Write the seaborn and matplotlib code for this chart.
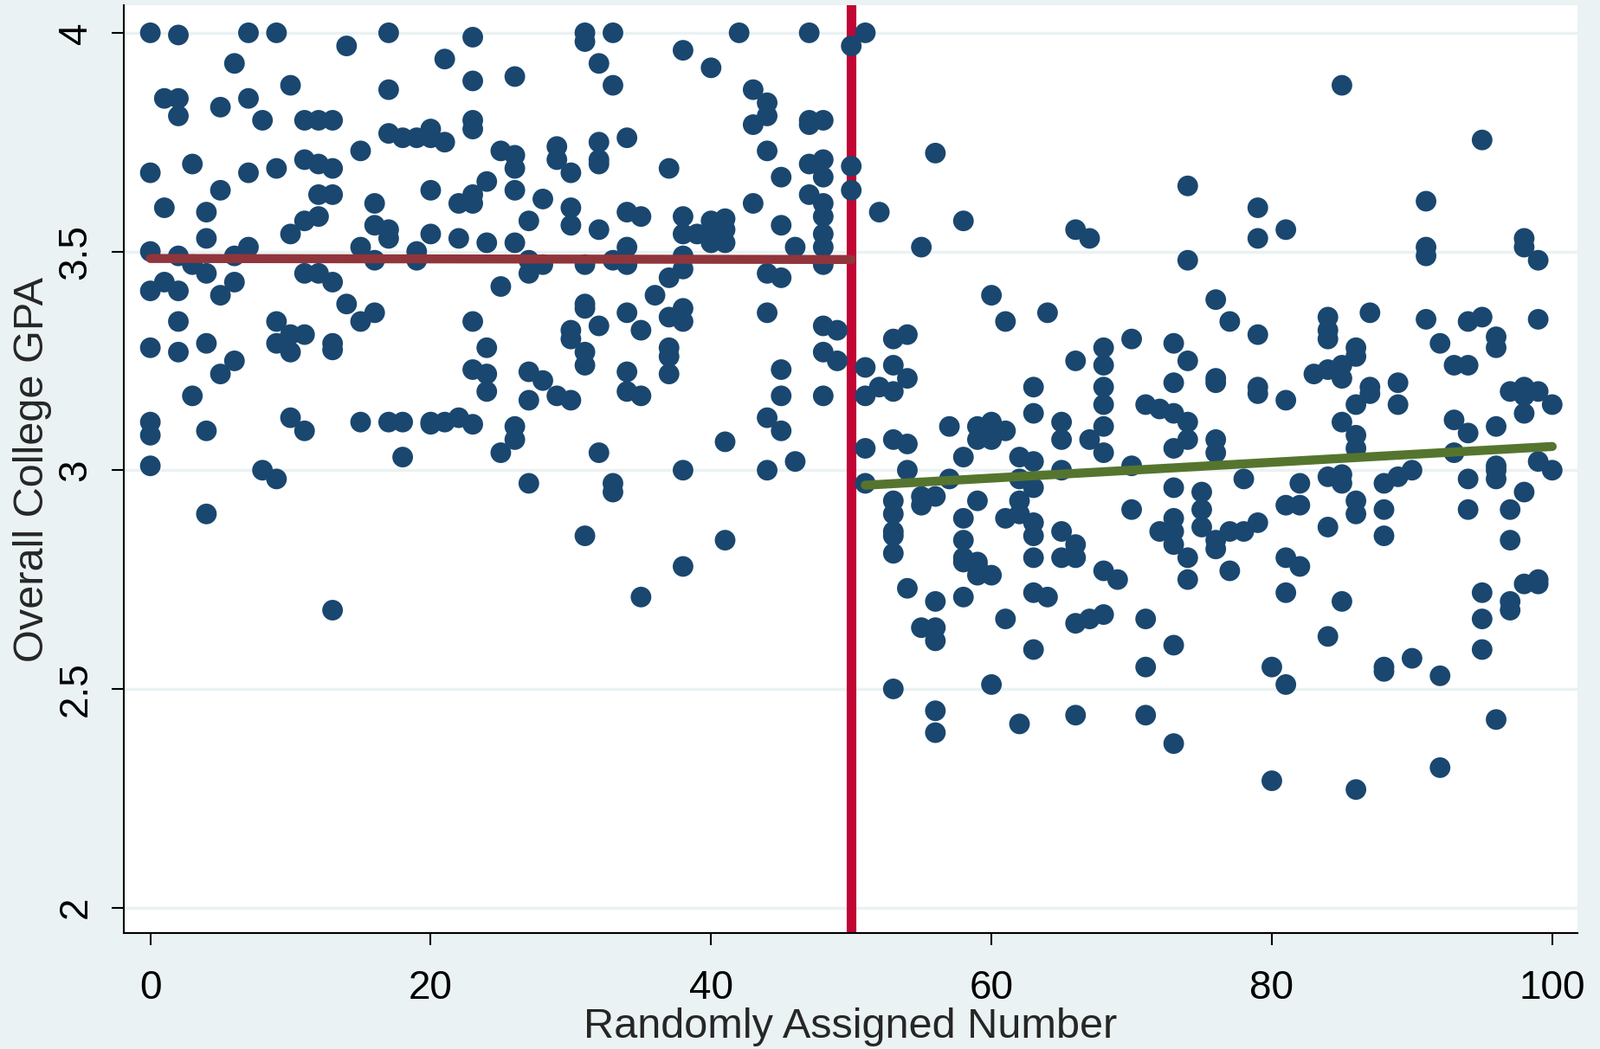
import numpy as np
import pandas as pd
import matplotlib
matplotlib.use("Agg")
import matplotlib.pyplot as plt
import seaborn as sns

# ---- data: randomly assigned number -> GPA values ----
gpa_below_cutoff = {
    0: [4.00, 3.68, 3.50, 3.41, 3.28, 3.11, 3.08, 3.01],
    1: [3.85, 3.60, 3.43],
    2: [3.995, 3.85, 3.81, 3.49, 3.41, 3.34, 3.27],
    3: [3.70, 3.47, 3.17],
    4: [3.59, 3.53, 3.45, 3.29, 3.09, 2.90],
    5: [3.83, 3.64, 3.40, 3.22],
    6: [3.93, 3.49, 3.43, 3.25],
    7: [4.00, 3.85, 3.68, 3.51],
    8: [3.80, 3.00],
    9: [4.00, 3.69, 3.34, 3.29, 2.98],
    10: [3.88, 3.54, 3.31, 3.27, 3.12],
    11: [3.80, 3.71, 3.57, 3.45, 3.31, 3.09],
    12: [3.80, 3.70, 3.63, 3.58, 3.45],
    13: [3.80, 3.69, 3.63, 3.43, 3.29, 3.275, 2.68],
    14: [3.97, 3.38],
    15: [3.73, 3.51, 3.34, 3.11],
    16: [3.61, 3.56, 3.48, 3.36],
    17: [4.00, 3.87, 3.77, 3.55, 3.53, 3.11],
    18: [3.76, 3.11, 3.03],
    19: [3.76, 3.50, 3.48],
    20: [3.78, 3.76, 3.64, 3.54, 3.11, 3.105],
    21: [3.94, 3.75, 3.11],
    22: [3.61, 3.53, 3.12],
    23: [3.99, 3.89, 3.80, 3.78, 3.63, 3.61, 3.34, 3.23, 3.105],
    24: [3.66, 3.52, 3.28, 3.22, 3.18],
    25: [3.73, 3.42, 3.04],
    26: [3.90, 3.72, 3.69, 3.64, 3.52, 3.10, 3.07],
    27: [3.57, 3.48, 3.45, 3.225, 3.16, 2.97],
    28: [3.62, 3.47, 3.205],
    29: [3.74, 3.71, 3.17],
    30: [3.68, 3.60, 3.56, 3.32, 3.30, 3.16],
    31: [4.00, 3.98, 3.47, 3.38, 3.37, 3.27, 3.24, 2.85],
    32: [3.93, 3.75, 3.71, 3.70, 3.55, 3.33, 3.04],
    33: [4.00, 3.88, 3.48, 2.97, 2.95],
    34: [3.76, 3.59, 3.51, 3.47, 3.36, 3.225, 3.18],
    35: [3.58, 3.32, 3.17, 2.71],
    36: [3.40],
    37: [3.69, 3.44, 3.35, 3.28, 3.26, 3.22],
    38: [3.96, 3.58, 3.54, 3.49, 3.46, 3.37, 3.34, 3.00, 2.78],
    39: [3.54],
    40: [3.92, 3.57, 3.54, 3.52],
    41: [3.575, 3.55, 3.52, 3.065, 2.84],
    42: [4.00],
    43: [3.87, 3.79, 3.61],
    44: [3.84, 3.81, 3.73, 3.45, 3.36, 3.12, 3.00],
    45: [3.67, 3.56, 3.44, 3.23, 3.17, 3.09],
    46: [3.51, 3.02],
    47: [4.00, 3.80, 3.79, 3.70, 3.63],
    48: [3.80, 3.71, 3.67, 3.61, 3.58, 3.54, 3.51, 3.47, 3.33, 3.27, 3.17],
    49: [3.32, 3.25],
    50: [3.97, 3.695, 3.64],
}
gpa_above_cutoff = {
    51: [4.00, 3.235, 3.17, 3.05, 2.97],
    52: [3.59, 3.19],
    53: [3.30, 3.24, 3.18, 3.07, 2.93, 2.90, 2.86, 2.85, 2.81, 2.50],
    54: [3.31, 3.21, 3.06, 3.00, 2.73],
    55: [3.51, 2.94, 2.92, 2.64],
    56: [3.725, 2.94, 2.70, 2.64, 2.61, 2.45, 2.40],
    57: [3.10, 2.98],
    58: [3.57, 3.03, 2.89, 2.84, 2.80, 2.79, 2.71],
    59: [3.10, 3.07, 2.93, 2.79, 2.78, 2.76],
    60: [3.40, 3.11, 3.09, 3.07, 2.76, 2.51],
    61: [3.34, 3.09, 2.89, 2.66],
    62: [3.03, 2.98, 2.93, 2.90, 2.42],
    63: [3.19, 3.13, 3.02, 2.96, 2.88, 2.85, 2.80, 2.72, 2.59],
    64: [3.36, 2.71],
    65: [3.11, 3.07, 3.00, 2.86, 2.80],
    66: [3.55, 3.25, 2.83, 2.80, 2.65, 2.44],
    67: [3.53, 3.07, 2.66],
    68: [3.28, 3.24, 3.19, 3.15, 3.10, 3.04, 2.77, 2.67],
    69: [2.75],
    70: [3.30, 3.01, 2.91],
    71: [3.15, 2.66, 2.55, 2.44],
    72: [3.14, 2.86],
    73: [3.29, 3.20, 3.13, 3.05, 2.96, 2.89, 2.86, 2.83, 2.60, 2.375],
    74: [3.65, 3.48, 3.25, 3.11, 3.07, 2.80, 2.75],
    75: [2.95, 2.91, 2.87],
    76: [3.39, 3.21, 3.20, 3.07, 3.04, 2.84, 2.82],
    77: [3.34, 2.86, 2.77],
    78: [2.98, 2.86],
    79: [3.60, 3.53, 3.31, 3.19, 3.175, 2.88],
    80: [2.55, 2.29],
    81: [3.55, 3.16, 2.92, 2.80, 2.72, 2.51],
    82: [2.97, 2.92, 2.78],
    83: [3.22],
    84: [3.35, 3.32, 3.30, 3.23, 2.985, 2.87, 2.62],
    85: [3.88, 3.24, 3.21, 3.11, 2.99, 2.97, 2.70],
    86: [3.28, 3.26, 3.15, 3.08, 3.05, 2.93, 2.90, 2.27],
    87: [3.36, 3.19, 3.175],
    88: [2.97, 2.91, 2.85, 2.55, 2.54],
    89: [3.20, 3.15, 2.985],
    90: [3.00, 2.57],
    91: [3.615, 3.51, 3.49, 3.345],
    92: [3.29, 2.53, 2.32],
    93: [3.24, 3.115, 3.04],
    94: [3.34, 3.24, 3.085, 2.98, 2.91],
    95: [3.755, 3.35, 2.72, 2.66, 2.59],
    96: [3.305, 3.28, 3.10, 3.01, 3.00, 2.98, 2.43],
    97: [3.18, 2.91, 2.84, 2.70, 2.68],
    98: [3.53, 3.51, 3.19, 3.17, 3.13, 2.95, 2.74],
    99: [3.48, 3.345, 3.18, 3.02, 2.75, 2.74],
    100: [3.15, 3.00],
}
cutoff = 50
x_ticks = [0, 20, 40, 60, 80, 100]
y_ticks = [2, 2.5, 3, 3.5, 4]
y_tick_labels = ["2", "2.5", "3", "3.5", "4"]
x_title = "Randomly Assigned Number"
y_title = "Overall College GPA"

rows = [(n, g) for d in (gpa_below_cutoff, gpa_above_cutoff)
        for n, vals in d.items() for g in vals]
df = pd.DataFrame(rows, columns=["number", "gpa"])
low = df[df["number"] <= cutoff]
high = df[df["number"] > cutoff]

BG = "#eaf2f3"
NAVY = "#1a476f"
sns.set_style("white")
plt.rcParams["font.family"] = ["Liberation Sans", "DejaVu Sans"]

fig = plt.figure(figsize=(18.48, 12.12), dpi=100, facecolor=BG)
ax = fig.add_axes([0.0774, 0.1106, 0.9085, 0.8844])
ax.set_facecolor("white")

ax.axvline(cutoff, color="#c10534", lw=8, zorder=1)
sns.scatterplot(data=df, x="number", y="gpa", s=295, color=NAVY,
                edgecolor="none", linewidth=0, ax=ax, zorder=2, legend=False)
sns.regplot(data=low, x="number", y="gpa", scatter=False, ci=None, ax=ax,
            line_kws=dict(color="#90353b", lw=7.5, zorder=3, solid_capstyle="round"))
sns.regplot(data=high, x="number", y="gpa", scatter=False, ci=None, ax=ax,
            line_kws=dict(color="#55752f", lw=7.5, zorder=3, solid_capstyle="round"))

ax.set_xlim(-1.89, 101.8)
ax.set_ylim(1.942, 4.063)
ax.set_xticks(x_ticks)
ax.set_yticks(y_ticks)
ax.set_yticklabels(y_tick_labels)
for lab in ax.get_yticklabels():
    lab.set_rotation(90)
    lab.set_va("center")
ax.grid(axis="y", color=BG, lw=2.5)
ax.grid(axis="x", visible=False)
ax.set_axisbelow(True)

for s in ["top", "right"]:
    ax.spines[s].set_visible(False)
for s in ["left", "bottom"]:
    ax.spines[s].set_color("black")
    ax.spines[s].set_linewidth(1.5)

ax.tick_params(axis="both", length=10, width=1.5, color="black",
               labelsize=33, labelcolor="black", left=True, bottom=True)
ax.tick_params(axis="y", pad=14)
ax.tick_params(axis="x", pad=20)
ax.set_xlabel(x_title, fontsize=35, labelpad=0)
ax.set_ylabel(y_title, fontsize=35, labelpad=4)

fig.savefig("out.png", dpi=100, facecolor=BG)
